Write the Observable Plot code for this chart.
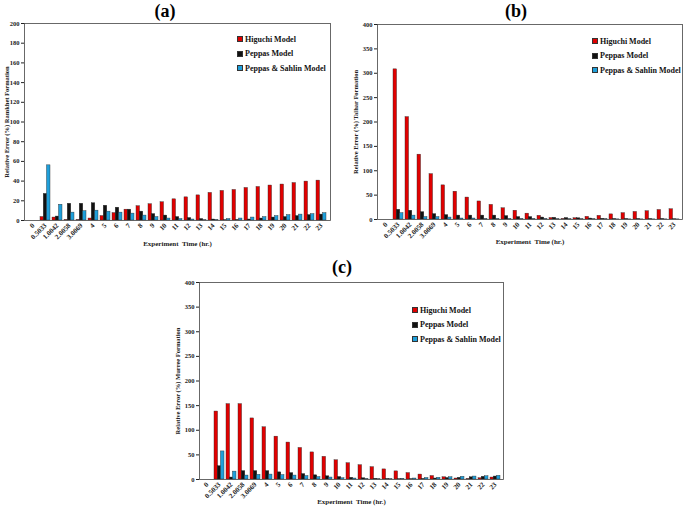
<!DOCTYPE html>
<html>
<head>
<meta charset="utf-8">
<script src="https://cdn.jsdelivr.net/npm/d3@7"></script>
<script src="https://cdn.jsdelivr.net/npm/@observablehq/plot@0.6"></script>
<style>
  body { margin: 0; background: #fff; }
  #wrap { position: relative; width: 685px; height: 508px; background: #fff; overflow: hidden; font-family: "Liberation Serif", "Times New Roman", serif; }
  .panel { position: absolute; }
  .title { position: absolute; font-weight: bold; font-size: 18px; transform: translate(-50%, -50%); white-space: nowrap; }
  .legend { position: absolute; font-weight: bold; font-size: 8px; color: #111; }
  .legend div { display: flex; align-items: center; height: 14.5px; white-space: nowrap; }
  .legend span.sw { display: inline-block; width: 4px; height: 4px; border: 0.8px solid #333; margin-right: 2px; }
</style>
</head>
<body>
<div id="wrap"></div>
<script>
const categories = ["0","0.5033","1.0042","2.0058","3.0069","4","5","6","7","8","9","10","11","12","13","14","15","16","17","18","19","20","21","22","23"];
const seriesNames = ["Higuchi Model","Peppas Model","Peppas & Sahlin Model"];
const seriesColors = ["#e00000","#111111","#1f9fda"];

// Panel (a) – Ramkhet Formation
const aHiguchi = [0,3.5,3,0.5,0.5,2,4.5,7.5,11,14.5,16.5,18.5,21.5,23.5,25.5,28,30,31,33,34,35.5,36.5,38,39.5,40.5];
const aPeppas  = [0,27,4,17,17,17.5,15,13,11,9,6.5,5,3.5,2.5,1.5,1,0.3,0.5,1,2,3,3.5,4.5,5.5,6];
const aSahlin  = [0,56,16,8,9.5,10,9,8,7,5,3.5,2,1.5,1,0.3,0.5,1.5,2,3,3.5,4.5,5.5,6,6.5,7.5];

// Panel (b) – Talhar Formation
const bHiguchi = [0,308,210,133,93,70,57,45,37,30,23,18,12,7.5,3,1,2.5,5.5,7.5,10.5,13,15.5,17,19.5,21];
const bPeppas  = [0,20,18,15,11,9,8,8,8,8,7,5,5,4,3.5,3,2.5,2,1.5,1,1,1,1,1,0.5];
const bSahlin  = [0,13,8,5,5,4,2,2,1,1,1,1,1,1,0.5,0.5,0.5,0.5,0.5,0.3,0.3,0.3,0.3,0.3,0.3];

// Panel (c) – Murree Formation
const cHiguchi = [0,138,153,153,124,106,87,75,64,55,46,39,33,29,25,20.5,16.5,13,10,7,4.5,2,1,2.5,4];
const cPeppas  = [0,27,4,17,17,17,14.5,13,11,8.5,6.5,5,3.5,2.5,1.5,1,0.5,0.5,1,2,3,3.5,4.5,5.5,6];
const cSahlin  = [0,57,16,8,9.5,10,9,8,7,5,4,2.5,2,1,0.5,0.5,1.5,2,3,3.5,4.5,5.5,6,6.5,7.5];

const wrap = document.getElementById("wrap");

function makePanel(cfg) {
  const values = cfg.values;
  const rows = [];
  categories.forEach((c, i) => {
    seriesNames.forEach((s, j) => rows.push({cat: c, series: s, value: values[j][i]}));
  });
  const innerW = cfg.width - cfg.ml - cfg.mr;
  const pad = 0.2;
  const step = innerW / (categories.length - pad + 2 * pad);
  const bw = step * (1 - pad);
  const third = bw / 3;
  const bars = seriesNames.map((s, j) => Plot.barY(rows.filter(r => r.series === s), {
    x: "cat", y: "value", fill: seriesColors[j], stroke: "#2a2a2a", strokeWidth: 0.4,
    insetLeft: j * third, insetRight: (2 - j) * third
  }));
  const chart = Plot.plot({
    width: cfg.width, height: cfg.height,
    marginLeft: cfg.ml, marginRight: cfg.mr, marginTop: cfg.mt, marginBottom: cfg.mb,
    style: {fontFamily: "'Liberation Serif', 'Times New Roman', serif", fontWeight: "bold", fontSize: "7px", color: "#222", background: "#fff"},
    x: {domain: categories, padding: pad, label: null},
    y: {domain: [0, cfg.yMax], label: null},
    marks: [
      ...bars,
      Plot.frame({stroke: "#444", strokeWidth: 0.8}),
      Plot.axisX({tickRotate: -45, tickSize: 0, tickPadding: 4, label: "Experiment  Time (hr.)", labelAnchor: "center", labelOffset: cfg.xlo, labelArrow: "none", fontSize: 7}),
      Plot.axisY({ticks: d3.range(0, cfg.yMax + 1, cfg.yStep), tickSize: 3, tickPadding: 2, fontSize: 6.5}),
      Plot.axisY({ticks: [], tickSize: 0, label: cfg.ylabel, labelAnchor: "center", labelOffset: cfg.ylo, labelArrow: "none", fontSize: 6.5})
    ]
  });
  chart.classList.add("panel");
  chart.style.left = cfg.left + "px";
  chart.style.top = cfg.top + "px";
  wrap.appendChild(chart);

  const t = document.createElement("div");
  t.className = "title";
  t.textContent = cfg.title;
  t.style.left = cfg.titleX + "px";
  t.style.top = cfg.titleY + "px";
  wrap.appendChild(t);

  const lg = document.createElement("div");
  lg.className = "legend";
  lg.style.left = cfg.legX + "px";
  lg.style.top = cfg.legY + "px";
  seriesNames.forEach((s, j) => {
    const row = document.createElement("div");
    const sw = document.createElement("span");
    sw.className = "sw";
    sw.style.background = seriesColors[j];
    row.appendChild(sw);
    row.appendChild(document.createTextNode(s));
    lg.appendChild(row);
  });
  wrap.appendChild(lg);
}

makePanel({values: [aHiguchi, aPeppas, aSahlin], left: 0, top: 0, width: 340, height: 250,
  ml: 24, mr: 10, mt: 23, mb: 30, yMax: 200, yStep: 20, xlo: 25, ylo: 20,
  ylabel: "Relative Error (%) Ramkhet Formation", title: "(a)", titleX: 165, titleY: 11,
  legX: 237, legY: 32});
makePanel({values: [bHiguchi, bPeppas, bSahlin], left: 340, top: 0, width: 345, height: 250,
  ml: 37, mr: 3, mt: 24, mb: 31, yMax: 400, yStep: 50, xlo: 24, ylo: 24,
  ylabel: "Relative Error (%) Talhar Formation", title: "(b)", titleX: 516, titleY: 11,
  legX: 592, legY: 34});
makePanel({values: [cHiguchi, cPeppas, cSahlin], left: 160, top: 250, width: 360, height: 258,
  ml: 39, mr: 17, mt: 32, mb: 29, yMax: 400, yStep: 50, xlo: 24, ylo: 24,
  ylabel: "Relative Error (%) Murree Formation", title: "(c)", titleX: 342, titleY: 267,
  legX: 412, legY: 303});
</script>
</body>
</html>
